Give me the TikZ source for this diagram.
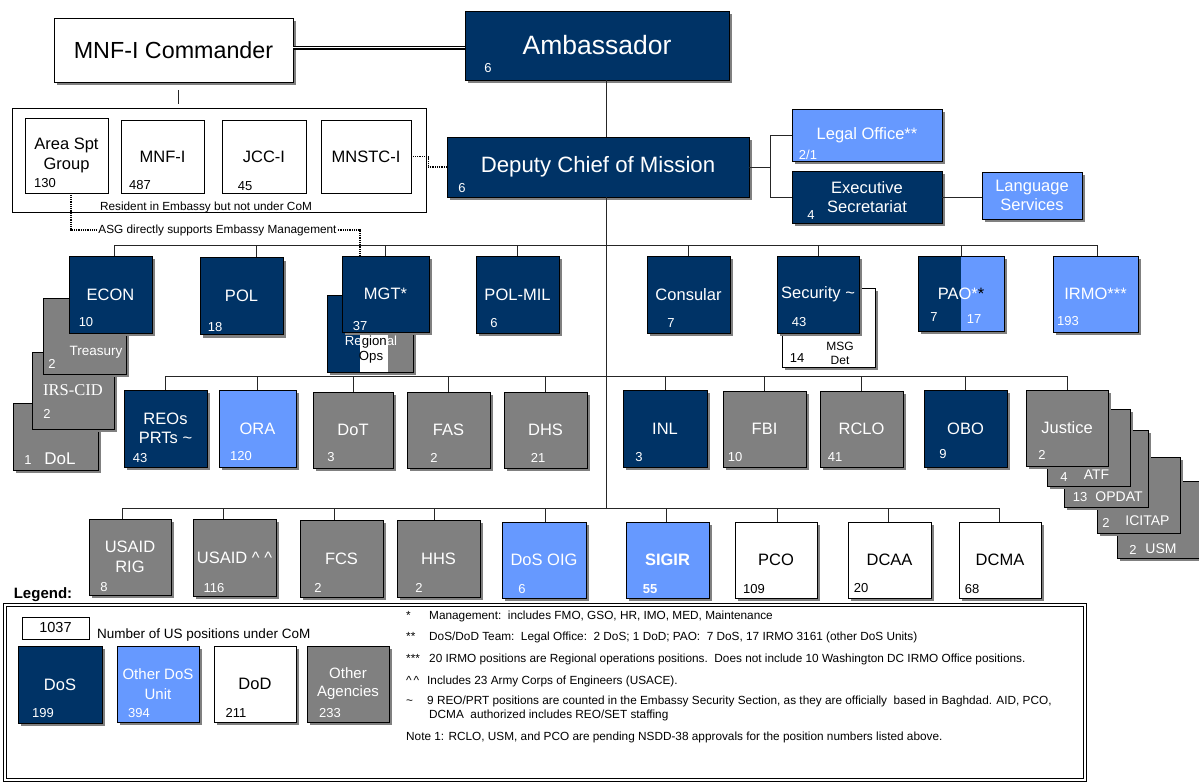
\documentclass[tikz,border=0pt]{standalone}
\usepackage{fontspec}
\setmainfont{Liberation Sans}
\newfontfamily\timesfont{Liberation Serif}
\usepackage{xcolor}
\usepackage{tikz}
\usetikzlibrary{shadows}

\definecolor{dosblue}{RGB}{0,51,102}
\definecolor{otherblue}{RGB}{102,153,255}
\definecolor{agencygray}{RGB}{128,128,128}

\begin{document}
\begin{tikzpicture}[x=1pt, y=-1pt,
    box/.style={draw=black, line width=0.8pt, inner sep=1pt, align=center,
      font=\fontsize{16.5}{19.5}\selectfont,
      drop shadow={shadow xshift=3pt, shadow yshift=-3pt, fill=black!50, opacity=1}},
    dosbox/.style={box, fill=dosblue, text=white},
    otherbox/.style={box, fill=otherblue, text=white},
    dodbox/.style={box, fill=white, text=black},
    agencybox/.style={box, fill=agencygray, text=white},
    plainbox/.style={draw=black, line width=0.8pt, fill=white, inner sep=1pt, align=center,
      font=\fontsize{16.5}{19.5}\selectfont},
    sq/.style={minimum width=83pt, minimum height=77pt},
    num/.style={inner sep=0pt, text=white, font=\fontsize{13}{13}\selectfont},
    numk/.style={num, text=black},
    stk/.style={num, font=\fontsize{14}{14}\selectfont},
    small/.style={inner sep=0pt, font=\fontsize{11.8}{13}\selectfont},
    conn/.style={draw=black!85, line width=1pt},
    dotconn/.style={line width=1.6pt, dash pattern=on 0.9pt off 0.9pt},
    note/.style={anchor=base west, inner sep=0pt, font=\fontsize{11.8}{14}\selectfont}]

    \path[use as bounding box, fill=white] (0,0) rectangle (1199,784);
    \coordinate (trunk) at (606,0);
    \coordinate (bus1) at (0,245);
    \coordinate (bus2) at (0,376);
    \coordinate (bus3) at (0,508);

    % Ambassador and MNF-I Commander
    \node[dodbox, minimum width=239pt, minimum height=64pt, font=\fontsize{23.3}{26}\selectfont] (cmdr) at (173.5,50) {MNF-I Commander};
    \node[dosbox, minimum width=264pt, minimum height=69pt, font=\fontsize{26.5}{30}\selectfont] (amb) at (597,45.5) {Ambassador};
    \node[num] at (488,68) {6};
    \coordinate (cmdrlink) at ([yshift=2pt]cmdr.east);
    \draw[line width=1.8pt, double=white, double distance=1pt] (cmdrlink) -- (cmdrlink -| amb.west);

    % Deputy and front office
    \node[dosbox, minimum width=302pt, minimum height=60pt, font=\fontsize{22.2}{25}\selectfont] (dcm) at (598,167) {Deputy Chief of Mission};
    \node[num] at (462,188) {6};
    \draw[conn] (amb.south -| trunk) -- (dcm.north -| trunk);
    \node[otherbox, minimum width=150pt, minimum height=52pt] (legal) at (867,135) {Legal Office**};
    \node[num] at (808,155) {2/1};
    \node[dosbox, minimum width=150pt, minimum height=52pt] (exec) at (867,197) {Executive\\Secretariat};
    \node[num] at (811,215) {4};
    \node[otherbox, minimum width=100pt, minimum height=47pt] (lang) at (1032,195.5) {Language\\Services};
    \coordinate (staff) at (770,167);
    \draw[conn] (dcm.east) -- (staff);
    \draw[conn] (legal.west) -| (staff) |- (exec.west);
    \draw[conn] (exec.east) -- (exec.east -| lang.west);

    % MNF-I units resident in the embassy
    \node[draw, line width=0.8pt, minimum width=414pt, minimum height=104pt, inner sep=0pt] (resgrp) at (219,160) {};
    \draw[conn] ([xshift=4.5pt, yshift=-8pt]cmdr.south) -- ++(0,14);
    \node[small] (restxt) at (206,207) {Resident in Embassy but not under CoM};
    \node[plainbox, minimum width=83pt, minimum height=75pt] (asg) at (66.5,155.5) {Area Spt\\Group};
    \node[numk] at (45,183) {130};
    \node[plainbox, minimum width=83pt, minimum height=73pt] (mnfi) at (162.5,156.5) {MNF-I};
    \node[numk] at (140,185) {487};
    \node[plainbox, minimum width=84pt, minimum height=73pt] (jcci) at (264,156.5) {JCC-I};
    \node[numk] at (245,186) {45};
    \node[plainbox, minimum width=90pt, minimum height=73pt] (mnstc) at (366,156.5) {MNSTC-I};
    \draw[dotconn] (mnstc.east) -- ++(17,0) |- (dcm.west);
    \node[small, inner sep=1pt] (asgtxt) at (217.5,230) {ASG directly supports Embassy Management};
    \draw[dotconn] ([xshift=4.5pt]asg.south) |- (asgtxt.west);

    % Sections under the DCM, stacked agencies behind ECON
    \node[agencybox, minimum width=85pt, minimum height=67pt] (dol) at (55.5,436.5) {};
    \node[num] at (28,460) {1};
    \node[num, font=\fontsize{17}{17}\selectfont] at (60,459) {DoL};
    \node[agencybox, minimum width=82pt, minimum height=77pt, font=\timesfont\fontsize{16.5}{19}\selectfont] (irs) at (73,390.5) {IRS-CID};
    \node[num] at (47,414) {2};
    \node[agencybox, minimum width=83pt, minimum height=76pt] (treas) at (84.5,336) {};
    \node[num, font=\fontsize{13.5}{14}\selectfont] at (96,352) {Treasury};
    \node[num] at (52,364) {2};
    \node[dosbox, sq] (econ) at (110.5,294.5) {ECON};
    \node[num] at (86,322) {10};
    \node[dosbox, sq] (pol) at (241.5,296) {POL};
    \node[num] at (215,327) {18};
    \node[dosbox, minimum width=86pt, minimum height=77pt,
      path picture={
        \fill[white] ([xshift=33pt]path picture bounding box.north west) rectangle ([xshift=61pt]path picture bounding box.south west);
        \fill[agencygray] ([xshift=61pt]path picture bounding box.north west) rectangle (path picture bounding box.south east);}] (regops) at (370,333.5) {};
    \node[inner sep=0pt, align=center, font=\fontsize{13.2}{15}\selectfont] (regtxt) at (371,350) {\textcolor{white}{Re}gion\textcolor{white}{al}\\Ops};
    \node[dosbox, minimum width=87pt, minimum height=76pt] (mgt) at (385.5,294) {MGT*};
    \node[num] at (360,326) {37};
    \draw[dotconn] (asgtxt.east) -| ([xshift=-25.5pt]mgt.north);
    \node[dosbox, sq] (polmil) at (517.5,294.5) {POL-MIL};
    \node[num] at (494,323) {6};
    \node[dosbox, sq] (consular) at (688.5,294.5) {Consular};
    \node[num] at (671,323) {7};
    \node[dodbox, minimum width=93pt, minimum height=79pt] (msg) at (828.5,327.5) {};
    \node[numk] at (797,358) {14};
    \node[inner sep=0pt, align=center, font=\fontsize{12}{14}\selectfont] at (840,353) {MSG\\Det};
    \node[dosbox, minimum width=82pt, minimum height=77pt] (security) at (818,294.5) {Security \textasciitilde};
    \node[num] at (799,322) {43};
    \node[otherbox, minimum width=86pt, minimum height=75pt,
      path picture={\fill[dosblue] (path picture bounding box.north west) rectangle ([xshift=43pt]path picture bounding box.south west);}] (pao) at (961,293.5) {PAO*\textcolor{black}{*}};
    \node[num] at (934,317) {7};
    \node[num] at (974,319) {17};
    \node[otherbox, minimum width=85pt, minimum height=76pt] (irmo) at (1095.5,294) {IRMO***};
    \node[num] at (1068,321) {193};

    % Second row
    \node[dosbox, sq] (reos) at (165.5,428.5) {REOs\\PRTs \textasciitilde};
    \node[num] at (140,458) {43};
    \node[otherbox, minimum width=77pt, minimum height=77pt] (ora) at (257.5,428.5) {ORA};
    \node[num] at (241,456) {120};
    \node[agencybox, minimum width=80pt, minimum height=76pt] (dotn) at (353,430) {DoT};
    \node[num] at (331,457) {3};
    \node[agencybox, minimum width=83pt, minimum height=76pt] (fas) at (448.5,430) {FAS};
    \node[num] at (434,458) {2};
    \node[agencybox, minimum width=83pt, minimum height=76pt] (dhs) at (545.5,430) {DHS};
    \node[num] at (538,458) {21};
    \node[dosbox, minimum width=84pt, minimum height=77pt] (inl) at (665,428.5) {INL};
    \node[num] at (639,457) {3};
    \node[agencybox, minimum width=83pt, minimum height=76pt] (fbi) at (764.5,429) {FBI};
    \node[num] at (735,457) {10};
    \node[agencybox, minimum width=83pt, minimum height=76pt] (rclo) at (861.5,429) {RCLO};
    \node[num] at (835,457) {41};
    \node[dosbox, sq] (obo) at (965.5,428.5) {OBO};
    \node[num] at (943,454) {9};

    % Justice and the agencies stacked behind it
    \node[agencybox, sq] (usm) at (1158.5,519.5) {};
    \node[num] at (1133,550) {2};
    \node[stk] at (1161,549) {USM};
    \node[agencybox, minimum width=83pt, minimum height=76pt] (icitap) at (1138.5,495) {};
    \node[num] at (1106,523) {2};
    \node[stk] at (1147.5,521) {ICITAP};
    \node[agencybox, minimum width=84pt, minimum height=77pt] (opdat) at (1106,468.5) {};
    \node[num] at (1080,497) {13};
    \node[stk] at (1119,497) {OPDAT};
    \node[agencybox, sq] (atf) at (1088.5,447.5) {};
    \node[num] at (1064,477) {4};
    \node[stk] at (1096.5,475) {ATF};
    \node[agencybox, minimum width=82pt, minimum height=76pt] (justice) at (1067,428) {Justice};
    \node[num] at (1042,455) {2};

    % Third row
    \node[agencybox, minimum width=82pt, minimum height=76pt] (usaidrig) at (130,557) {USAID\\RIG};
    \node[num] at (104,587) {8};
    \node[agencybox, sq] (usaid) at (234.5,557.5) {USAID \textasciicircum\ \textasciicircum};
    \node[num] at (214,588) {116};
    \node[agencybox, sq] (fcs) at (341.5,558.5) {FCS};
    \node[num] at (318,588) {2};
    \node[agencybox, sq] (hhs) at (438.5,558.5) {HHS};
    \node[num] at (419,588) {2};
    \node[otherbox, minimum width=84pt, minimum height=76pt] (dosoig) at (544,560) {DoS OIG};
    \node[num] at (522,589) {6};
    \node[otherbox, minimum width=83pt, minimum height=76pt, font=\bfseries\fontsize{16.5}{19.5}\selectfont] (sigir) at (667.5,560) {SIGIR};
    \node[num, font=\bfseries\fontsize{13}{13}\selectfont] at (650,589) {55};
    \node[dodbox, minimum width=82pt, minimum height=76pt] (pco) at (776,560) {PCO};
    \node[numk] at (754,589) {109};
    \node[dodbox, minimum width=83pt, minimum height=76pt] (dcaa) at (889.5,560) {DCAA};
    \node[numk] at (861,588) {20};
    \node[dodbox, minimum width=82pt, minimum height=76pt] (dcma) at (1000,560) {DCMA};
    \node[numk] at (972,589) {68};

    % Connectors of the three rows
    \draw[conn] (dcm.south -| trunk) -- (trunk |- bus3);
    \path ([xshift=3.5pt]econ.north) coordinate (tecon) ([xshift=14.5pt]pol.north) coordinate (tpol)
      ([xshift=1.5pt]irmo.north) coordinate (tirmo);
    \draw[conn] (tecon |- bus1) -- (tirmo |- bus1);
    \foreach \b in {tecon,tpol,mgt.north,polmil.north,consular.north,security.north,pao.north,tirmo}
      \draw[conn] (\b) -- (\b |- bus1);
    \draw[conn] (reos.north |- bus2) -- (justice.north |- bus2);
    \foreach \b in {reos,ora,dotn,fas,dhs,inl,fbi,rclo,obo,justice}
      \draw[conn] (\b.north) -- (\b.north |- bus2);
    \foreach \b/\s in {usaidrig/-8,usaid/-11.5,fcs/-7.5,hhs/-4.5,dosoig/1,sigir/-1.5,pco/1,dcaa/-1.5,dcma/-1} {
      \path ([xshift=\s pt]\b.north) coordinate (t\b);
      \draw[conn] (t\b) -- (t\b |- bus3);
    }
    \draw[conn] (tusaidrig |- bus3) -- (tdcma |- bus3);

    % Legend
    \node[inner sep=0pt, font=\bfseries\fontsize{15}{15}\selectfont] (lgtitle) at (43,595) {Legend:};
    \draw[line width=1.7pt, double=white, double distance=1.2pt] (5,605) rectangle (1085,780);
    \node[draw, line width=0.8pt, minimum width=67pt, minimum height=22pt, inner sep=0pt,
      font=\fontsize{14.5}{15}\selectfont] (lgtotal) at (55.5,628) {1037};
    \node[anchor=west, inner sep=0pt, font=\fontsize{13.5}{14}\selectfont] (lgtotaltxt) at (97,635) {Number of US positions under CoM};
    \node[dosbox, minimum width=84pt, minimum height=77pt] (lgdos) at (60,684.5) {DoS};
    \node[num] at (43,713) {199};
    \node[otherbox, minimum width=82pt, minimum height=76pt, font=\fontsize{15}{20}\selectfont] (lgother) at (158,684) {Other DoS\\Unit};
    \node[num] at (139,713) {394};
    \node[dodbox, minimum width=82pt, minimum height=76pt] (lgdod) at (255,684) {DoD};
    \node[numk] at (236,713) {211};
    \node[agencybox, minimum width=82pt, minimum height=76pt, font=\fontsize{15}{18}\selectfont] (lgagency) at (348,684) {Other\\Agencies};
    \node[num] at (330,713) {233};

    % Footnotes
    \node[note] at (406,619) {*};
    \node[note] at (429,619) {Management:\ \ includes FMO, GSO, HR, IMO, MED, Maintenance};
    \node[note] at (406,640) {**};
    \node[note] at (429,640) {DoS/DoD Team:\ \ Legal Office:\ \ 2 DoS; 1 DoD; PAO:\ \ 7 DoS, 17 IRMO 3161 (other DoS Units)};
    \node[note] at (406,662) {***};
    \node[note] at (429,662) {20 IRMO positions are Regional operations positions.\ \ Does not include 10 Washington DC IRMO Office positions.};
    \node[note] at (406,684) {\textasciicircum\,\textasciicircum};
    \node[note] at (427,684) {Includes 23 Army Corps of Engineers (USACE).};
    \node[note] at (406,704) {\textasciitilde};
    \node[note] at (427,704) {9 REO/PRT positions are counted in the Embassy Security Section, as they are officially\ \ based in Baghdad. AID, PCO,};
    \node[note] at (429,718) {DCMA\ \ authorized includes REO/SET staffing};
    \node[note] at (406,740) {Note 1: RCLO, USM, and PCO are pending NSDD-38 approvals for the position numbers listed above.};
\end{tikzpicture}
\end{document}
